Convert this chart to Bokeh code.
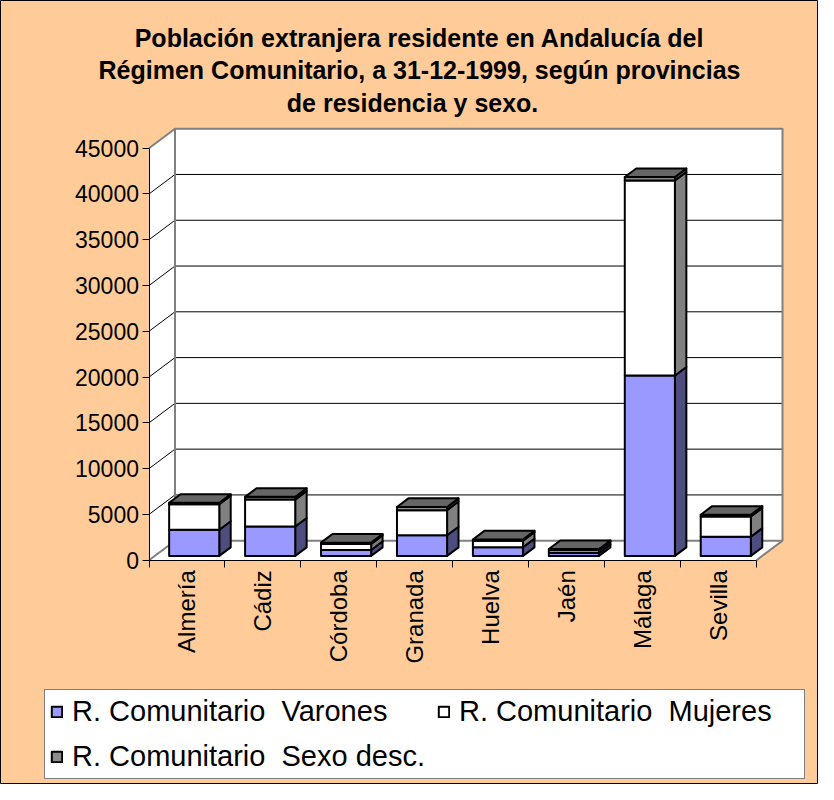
import math
from bokeh.plotting import figure
from bokeh.models import Range1d, FixedTicker, Legend, LegendItem, Label
from bokeh.embed import file_html
from bokeh.resources import INLINE

# ---------------- data ----------------
provincias = ["Almería", "Cádiz", "Córdoba", "Granada", "Huelva", "Jaén", "Málaga", "Sevilla"]
varones = [2850, 3200, 650, 2250, 950, 330, 19700, 2100]
mujeres = [2800, 2950, 650, 2750, 700, 300, 21300, 2200]
sexo_desc = [150, 300, 150, 350, 150, 120, 380, 200]
series_labels = ["R. Comunitario  Varones", "R. Comunitario  Mujeres", "R. Comunitario  Sexo desc."]
y_ticks = [0, 5000, 10000, 15000, 20000, 25000, 30000, 35000, 40000, 45000]
y_tick_labels = ["0", "5000", "10000", "15000", "20000", "25000", "30000", "35000", "40000", "45000"]
title_lines = [
    "Población extranjera residente en Andalucía del",
    "Régimen Comunitario, a 31-12-1999, según provincias",
    "de residencia  y  sexo.",
]

# ---------------- layout / style ----------------
W, H = 818, 784
ORANGE = "#FFCC99"
FONT = "Liberation Sans"
X0_PX, PX_PER_CAT = 148.5, 75.94          # canvas px of x=0, px per category
Y0_PX, PX_PER_UNIT = 559.7, 412.0 / 45000  # canvas px (from top) of y=0, px per unit
n = len(provincias)
y_max = y_ticks[-1]

DX = 26.0 / PX_PER_CAT      # depth offset (x, data units)
DY = 19.5 / PX_PER_UNIT     # depth offset (y, data units)
F0, F1 = 0.22, 0.66         # bar front/back depth fractions
GAP, BW = 0.19, 0.66        # bar offset and width inside a category

p = figure(width=W, height=H,
           x_range=Range1d(-X0_PX / PX_PER_CAT, (W - X0_PX) / PX_PER_CAT),
           y_range=Range1d(-(H - Y0_PX) / PX_PER_UNIT, Y0_PX / PX_PER_UNIT),
           output_backend="svg", toolbar_location=None, title=None,
           min_border=0, background_fill_color=ORANGE, border_fill_color=ORANGE,
           outline_line_color="black", outline_line_width=1)
p.grid.visible = False

# ---------------- walls ----------------
wall_line = "#808080"
p.patch([0, DX, DX, 0], [0, DY, y_max + DY, y_max], fill_color="white", line_color=None)
p.patch([0, n, n + DX, DX], [0, 0, DY, DY], fill_color="white", line_color=None)
p.patch([DX, n + DX, n + DX, DX], [DY, DY, y_max + DY, y_max + DY], fill_color="white", line_color=None)

gx, gy = [], []
for v in y_ticks[1:-1]:
    gx.append([0, DX, n + DX])
    gy.append([v, v + DY, v + DY])
p.multi_line(gx, gy, line_color="black", line_width=1)

ex = [[DX, DX, n + DX, n + DX, DX], [0, DX], [0, DX], [n, n + DX]]
ey = [[DY, y_max + DY, y_max + DY, DY, DY], [y_max, y_max + DY], [0, DY], [0, DY]]
p.multi_line(ex, ey, line_color=wall_line, line_width=2)

# ---------------- bars ----------------
series = [varones, mujeres, sexo_desc]
front_colors = ["#9999FF", "#FFFFFF", "#8C8C8C"]
side_colors = ["#4D4D80", "#808080", "#4D4D4D"]
top_color = "#666666"

segs = []
base = [0] * n
for s in series:
    hi = [b + v for b, v in zip(base, s)]
    segs.append((base, hi))
    base = hi

lefts = [i + GAP for i in range(n)]
rights = [l + BW for l in lefts]

for k, (lo, hi) in enumerate(segs):
    xs, ys = [], []
    for i in range(n):
        xs.append([rights[i] + F0 * DX, rights[i] + F1 * DX, rights[i] + F1 * DX, rights[i] + F0 * DX])
        ys.append([lo[i] + F0 * DY, lo[i] + F1 * DY, hi[i] + F1 * DY, hi[i] + F0 * DY])
    p.patches(xs, ys, fill_color=side_colors[k], line_color="black", line_width=2, line_join="round")

front_renderers = []
for k, (lo, hi) in enumerate(segs):
    r = p.quad(left=[l + F0 * DX for l in lefts], right=[r_ + F0 * DX for r_ in rights],
               bottom=[v + F0 * DY for v in lo], top=[v + F0 * DY for v in hi],
               fill_color=front_colors[k], line_color="black", line_width=2, line_join="round")
    front_renderers.append(r)

top = segs[-1][1]
txs, tys = [], []
for i in range(n):
    txs.append([lefts[i] + F0 * DX, rights[i] + F0 * DX, rights[i] + F1 * DX, lefts[i] + F1 * DX])
    tys.append([top[i] + F0 * DY, top[i] + F0 * DY, top[i] + F1 * DY, top[i] + F1 * DY])
p.patches(txs, tys, fill_color=top_color, line_color="black", line_width=2, line_join="round")

# ---------------- axes ----------------
yax = p.yaxis[0]
yax.fixed_location = 0
yax.bounds = (0, y_max)
yax.ticker = FixedTicker(ticks=y_ticks)
yax.major_label_overrides = {t: lab for t, lab in zip(y_ticks, y_tick_labels)}
yax.major_tick_in = 0
yax.major_tick_out = 7
yax.minor_tick_line_color = None
yax.major_label_standoff = 3
yax.major_label_text_font = FONT
yax.major_label_text_font_size = "23px"
yax.major_label_text_color = "black"
yax.axis_line_color = "black"
yax.major_tick_line_color = "black"

xax = p.xaxis[0]
xax.fixed_location = 0
xax.bounds = (0, n)
centers = [i + 0.5 for i in range(n)]
xax.ticker = FixedTicker(ticks=centers, minor_ticks=list(range(n + 1)))
xax.major_label_overrides = {c: name for c, name in zip(centers, provincias)}
xax.major_tick_in = 0
xax.major_tick_out = 7
xax.major_tick_line_color = None
xax.minor_tick_in = 0
xax.minor_tick_out = 7
xax.minor_tick_line_color = "black"
xax.major_label_orientation = math.pi / 2
xax.major_label_standoff = 3
xax.major_label_text_font = FONT
xax.major_label_text_font_size = "24px"
xax.major_label_text_color = "black"
xax.axis_line_color = "black"

# ---------------- title ----------------
for j, line in enumerate(title_lines):
    p.add_layout(Label(x=419, y=747 - j * 32.5, x_units="screen", y_units="screen", text=line,
                       text_align="center", text_baseline="middle", text_font=FONT,
                       text_font_size="25px", text_font_style="bold", text_color="black"))

# ---------------- legend ----------------
legend = Legend(items=[LegendItem(label=lab, renderers=[r]) for lab, r in zip(series_labels, front_renderers)],
                location=(44, 5), orientation="horizontal", ncols=2,
                label_text_font=FONT, label_text_font_size="29px", label_text_color="black",
                glyph_width=13, glyph_height=13, label_standoff=9, spacing=12, padding=5,
                label_width=340, border_line_color="black", border_line_width=1,
                background_fill_color="white", background_fill_alpha=1, margin=0)
p.add_layout(legend)

open("out.html", "w").write(file_html(p, INLINE))
